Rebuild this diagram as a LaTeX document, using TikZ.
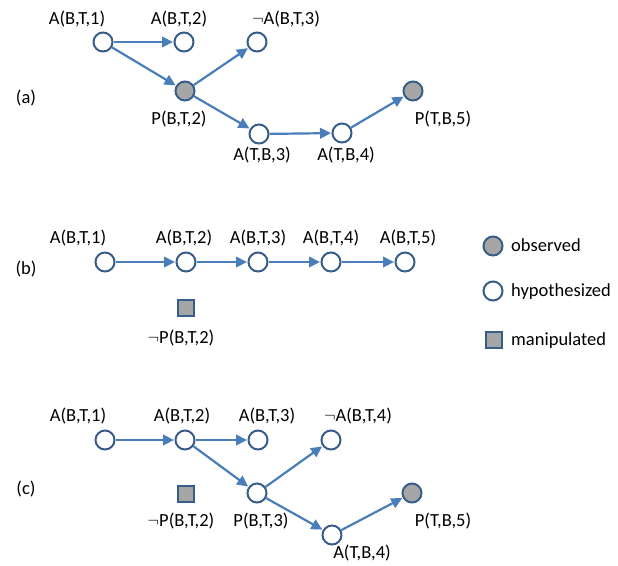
\documentclass[tikz,border=0pt]{standalone}
\usepackage{fontspec}
\setmainfont{Carlito}
\usetikzlibrary{arrows.meta}
\definecolor{nodeedge}{HTML}{385D8A}
\definecolor{obsfill}{HTML}{A6A6A6}
\definecolor{linkblue}{HTML}{4A7EBB}
\tikzset{
  hyp/.style={circle, draw=nodeedge, line width=2pt, fill=white, minimum size=19pt, inner sep=0pt},
  obs/.style={hyp, fill=obsfill},
  manip/.style={rectangle, draw=nodeedge, line width=2pt, fill=obsfill, minimum size=16pt, inner sep=0pt},
  lbl/.style={font=\fontsize{18.5}{20}\selectfont, inner sep=0pt, anchor=base},
  link/.style={draw=linkblue, line width=2.2pt, -{Triangle[length=11pt,width=10.5pt]}, shorten >=0.5pt}
}
\begin{document}
\begin{tikzpicture}[x=1pt,y=-1pt]
\useasboundingbox (0,0) rectangle (618,565);

% ---------- (a) ----------
\node[lbl] (tagA) at (26,103) {(a)};
\node[hyp] (a1) at (103,42) {};
\node[hyp] (a2) at (184,42) {};
\node[hyp] (a3) at (257,42) {};
\node[obs] (ap2) at (185,91) {};
\node[hyp] (at3) at (259,134) {};
\node[hyp] (at4) at (342,133) {};
\node[obs] (ap5) at (413,91) {};
\node[lbl] at (77,24) {A(B,T,1)};
\node[lbl] at (179,24) {A(B,T,2)};
\node[lbl] at (286,24) {$\neg$A(B,T,3)};
\node[lbl] at (179,124) {P(B,T,2)};
\node[lbl] at (262,160) {A(T,B,3)};
\node[lbl] at (346,160) {A(T,B,4)};
\node[lbl] at (443,124) {P(T,B,5)};
\draw[link] (a1) -- (a2);
\draw[link] (a1) -- (ap2);
\draw[link] (ap2) -- (a3);
\draw[link] (ap2) -- (at3);
\draw[link] (at3) -- (at4);
\draw[link] (at4) -- (ap5);

% ---------- (b) ----------
\node[lbl] (tagB) at (26,274) {(b)};
\node[hyp] (b1) at (105,262) {};
\node[hyp] (b2) at (186,262) {};
\node[hyp] (b3) at (258,262) {};
\node[hyp] (b4) at (331,262) {};
\node[hyp] (b5) at (405,262) {};
\node[manip] (bp2) at (186,308) {};
\node[lbl] at (78,243) {A(B,T,1)};
\node[lbl] at (184,243) {A(B,T,2)};
\node[lbl] at (258,243) {A(B,T,3)};
\node[lbl] at (331,243) {A(B,T,4)};
\node[lbl] at (408,243) {A(B,T,5)};
\node[lbl] at (181,343) {$\neg$P(B,T,2)};
\draw[link] (b1) -- (b2);
\draw[link] (b2) -- (b3);
\draw[link] (b3) -- (b4);
\draw[link] (b4) -- (b5);

% ---------- legend ----------
\node[obs] (legobs) at (493,246) {};
\node[hyp] (leghyp) at (493,291) {};
\node[manip] (legman) at (494,340) {};
\node[lbl, anchor=base west] at (511,251) {observed};
\node[lbl, anchor=base west] at (511,296) {hypothesized};
\node[lbl, anchor=base west] at (511,345) {manipulated};

% ---------- (c) ----------
\node[lbl] (tagC) at (26,494) {(c)};
\node[hyp] (c1) at (105,440) {};
\node[hyp] (c2) at (185,440) {};
\node[hyp] (c3) at (258,440) {};
\node[hyp] (c4) at (331,440) {};
\node[hyp] (cp3) at (257,493) {};
\node[manip] (cpm) at (186,494) {};
\node[hyp] (ct4) at (332,535) {};
\node[obs] (cp5) at (412,493) {};
\node[lbl] at (78,421) {A(B,T,1)};
\node[lbl] at (182,421) {A(B,T,2)};
\node[lbl] at (267,421) {A(B,T,3)};
\node[lbl] at (358,421) {$\neg$A(B,T,4)};
\node[lbl] at (181,526) {$\neg$P(B,T,2)};
\node[lbl] at (261,526) {P(B,T,3)};
\node[lbl] at (443,526) {P(T,B,5)};
\node[lbl] at (362,558) {A(T,B,4)};
\draw[link] (c1) -- (c2);
\draw[link] (c2) -- (c3);
\draw[link] (c2) -- (cp3);
\draw[link] (cp3) -- (c4);
\draw[link] (cp3) -- (ct4);
\draw[link] (ct4) -- (cp5);
\end{tikzpicture}
\end{document}
